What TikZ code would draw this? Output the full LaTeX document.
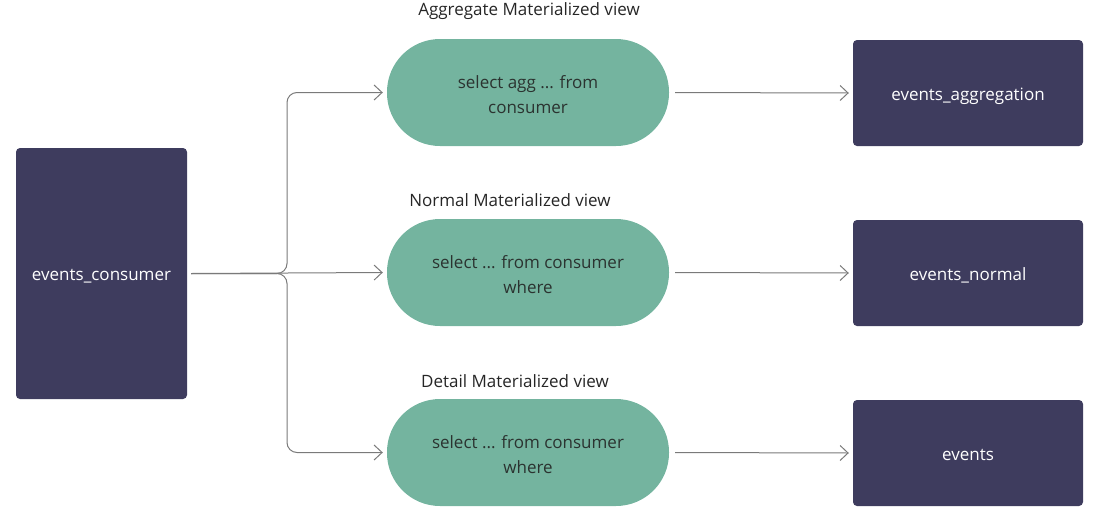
\documentclass[tikz,border=0pt]{standalone}
\usepackage{fontspec}
\setmainfont{Open Sans}
\usetikzlibrary{arrows.meta}
\definecolor{navy}{HTML}{3E3C5E}
\definecolor{mint}{HTML}{74B49F}
\definecolor{linegray}{HTML}{7A7A7A}
\definecolor{txtdark}{HTML}{2B3330}
\newcommand{\tallstrut}{\rule{0pt}{16.6pt}}
\begin{document}
\begin{tikzpicture}[x=1pt,y=-1pt,
  tbl/.style={draw=none,fill=navy,rounded corners=4pt,minimum width=230pt,minimum height=106pt,text=white,font=\fontsize{17}{20}\selectfont,inner sep=0pt,text height=14pt,text depth=0pt},
  mv/.style={draw=none,fill=mint,rounded corners=53pt,minimum width=282pt,minimum height=107pt,text=txtdark,align=center,font=\fontsize{17}{25}\selectfont,inner sep=0pt},
  ttl/.style={text=black!85,font=\fontsize{17}{20}\selectfont,inner sep=0pt},
  conn/.style={draw=linegray,line width=1pt,-{Straight Barb[length=8pt,width=15pt]}},
  brace/.style={conn,rounded corners=10pt}]
\useasboundingbox (0,0) rectangle (1112,523);
\node[tbl,minimum width=171pt,minimum height=251pt] (ec) at (101.5,273.5) {events\_consumer};
\node[mv] (p1) at (528,92.5) {\tallstrut select agg ... from\\consumer};
\node[mv] (p2) at (528,272.5) {\tallstrut select ... from consumer\\where};
\node[mv] (p3) at (528,452.5) {\tallstrut select ... from consumer\\where};
\node[ttl] (t1) at (529,11) {Aggregate Materialized view};
\node[ttl] (t2) at (510,200) {Normal Materialized view};
\node[ttl] (t3) at (515,381) {Detail Materialized view};
\node[tbl] (r1) at (968,93) {events\_aggregation};
\node[tbl] (r2) at (968,273) {events\_normal};
\node[tbl] (r3) at (968,453) {events};
\coordinate (j) at (287,273.5);
\draw[brace] ([xshift=4pt]ec.east) -- (j) |- ([xshift=-4pt]p1.west);
\draw[brace] ([xshift=4pt]ec.east) -- (j) |- ([xshift=-4pt]p3.west);
\draw[conn] ([xshift=4pt]ec.east) -- ([xshift=-4pt]p2.west);
\draw[conn] ([xshift=6pt]p1.east) -- ([xshift=-4pt]r1.west);
\draw[conn] ([xshift=6pt]p2.east) -- ([xshift=-4pt]r2.west);
\draw[conn] ([xshift=6pt]p3.east) -- ([xshift=-4pt]r3.west);
\end{tikzpicture}
\end{document}
